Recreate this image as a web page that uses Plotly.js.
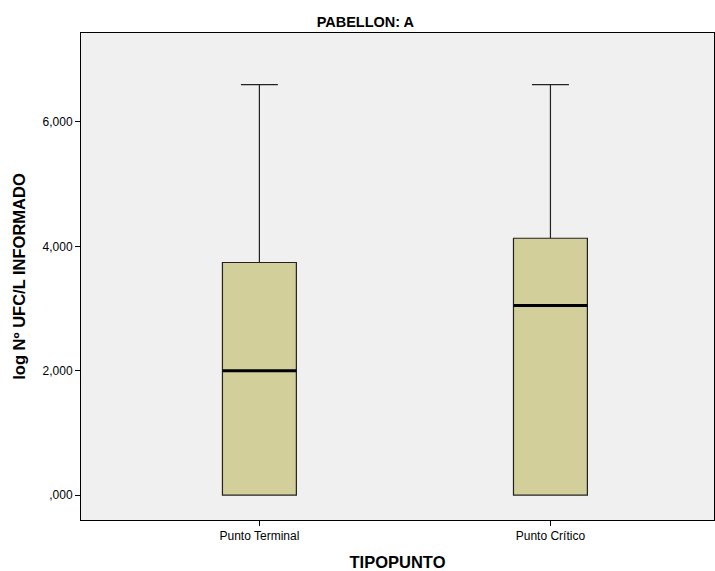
<!DOCTYPE html>
<html>
<head>
<meta charset="utf-8">
<script src="https://cdn.plot.ly/plotly-3.0.1.min.js"></script>
<style>
  html, body { margin: 0; padding: 0; background: #ffffff; }
  #chart { width: 715px; height: 571px; }
</style>
</head>
<body>
<div id="chart"></div>
<script>
// Box summaries of log Nº UFC/L per sampling point type, ward A
const categories = ['Punto Terminal', 'Punto Crítico'];
const lowerWhisker = [0, 0];
const q1Values = [0, 0];
const medianValues = [2.0, 3.05];
const q3Values = [3.74, 4.13];
const upperWhisker = [6.6, 6.6];

const yTickVals = [0, 2, 4, 6];
const yTickText = [',000', '2,000', '4,000', '6,000'];

const boxWidth = 0.254;
const font = 'Liberation Sans, Arial, sans-serif';

const boxTrace = {
  type: 'box',
  x: categories,
  q1: q1Values,
  median: medianValues,
  q3: q3Values,
  lowerfence: lowerWhisker,
  upperfence: upperWhisker,
  width: boxWidth,
  whiskerwidth: 0.5,
  boxpoints: false,
  fillcolor: '#d3cf9a',
  line: { color: '#222222', width: 1.2 },
  hoverinfo: 'skip',
  showlegend: false
};

// Heavy median bars drawn on top of each box
const medianShapes = medianValues.map((m, i) => ({
  type: 'line',
  xref: 'x', yref: 'y',
  x0: i - boxWidth / 2, x1: i + boxWidth / 2,
  y0: m, y1: m,
  line: { color: '#000000', width: 3 }
}));

const layout = {
  width: 715,
  height: 571,
  margin: { l: 81, r: 1, t: 33, b: 51 },
  paper_bgcolor: '#ffffff',
  plot_bgcolor: '#f0f0f0',
  font: { family: font, color: '#000000', size: 12 },
  title: {
    text: '<b>PABELLON: A</b>',
    font: { family: font, size: 14.5, color: '#000000' },
    x: 0.511, xanchor: 'center', xref: 'container',
    y: 0.962, yanchor: 'middle', yref: 'container'
  },
  xaxis: {
    type: 'category',
    range: [-0.613, 1.562],
    showline: true, linecolor: '#000000', linewidth: 1,
    mirror: true,
    ticks: 'outside', ticklen: 5, tickcolor: '#000000',
    showgrid: false, zeroline: false,
    tickfont: { family: font, size: 12, color: '#000000' },
    title: {
      text: '<b>TIPOPUNTO</b>',
      font: { family: font, size: 16.5, color: '#000000' },
      standoff: 16
    }
  },
  yaxis: {
    range: [-0.40, 7.43],
    tickvals: yTickVals,
    ticktext: yTickText,
    showline: true, linecolor: '#000000', linewidth: 1,
    mirror: true,
    ticks: 'outside', ticklen: 5, tickcolor: '#000000',
    showgrid: false, zeroline: false,
    tickfont: { family: font, size: 12, color: '#000000' },
    title: {
      text: '<b>log Nº UFC/L INFORMADO</b>',
      font: { family: font, size: 16.5, color: '#000000' },
      standoff: 12
    }
  },
  shapes: medianShapes
};

Plotly.newPlot('chart', [boxTrace], layout, { displayModeBar: false, staticPlot: true });
</script>
</body>
</html>
